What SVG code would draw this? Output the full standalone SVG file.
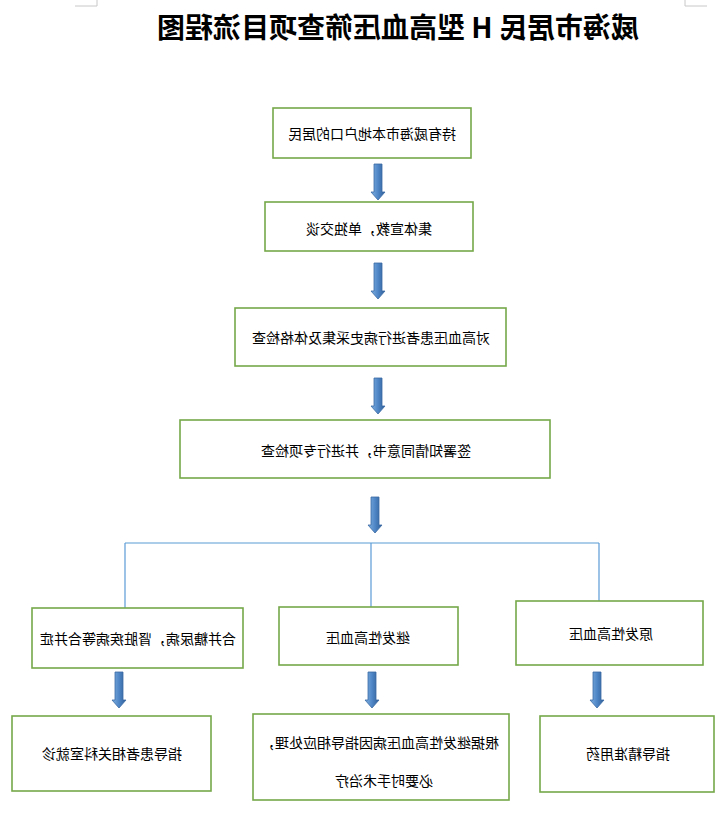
<svg xmlns="http://www.w3.org/2000/svg" width="726" height="824" viewBox="0 0 726 824">
<style>
.box{fill:#fff;stroke:#76a84a;stroke-width:1.6}
.t{font-family:"Noto Sans CJK SC","Noto Sans",sans-serif;font-size:14px;fill:#000;text-anchor:middle;dominant-baseline:central}
.title{font-family:"Noto Sans CJK SC","Noto Sans",sans-serif;font-size:28px;font-weight:bold;fill:#000;text-anchor:middle;dominant-baseline:central}
.line{fill:none;stroke:#5b9bd5;stroke-width:1.2}
.mark{stroke:#c8c8c8;stroke-width:1}
</style>
<defs>
<linearGradient id="ag" x1="0" y1="0" x2="1" y2="0">
<stop offset="0" stop-color="#7fb0e0"/>
<stop offset="0.5" stop-color="#4f86c6"/>
<stop offset="1" stop-color="#2f5f98"/>
</linearGradient>
<path id="arr" d="M-4,0 H4 V28 H7 L0,36 L-7,28 H-4 Z" fill="url(#ag)" stroke="#3a6aa3" stroke-width="0.8"/>
</defs>
<rect width="726" height="824" fill="#fff"/>
<g id="marks">
<line class="mark" x1="97" y1="0" x2="97" y2="6"/>
<line class="mark" x1="75" y1="6" x2="97" y2="6"/>
<line class="mark" x1="685" y1="0" x2="685" y2="6"/>
<line class="mark" x1="685" y1="6" x2="707" y2="6"/>
</g>
<g id="title">
<text class="title" transform="translate(398,26) scale(-1,1)">威海市居民 H 型高血压筛查项目流程图</text>
</g>
<g id="connectors">
<use href="#arr" x="378" y="164"/>
<use href="#arr" x="378" y="263"/>
<use href="#arr" x="378" y="378"/>
<use href="#arr" x="375" y="497"/>
<path class="line" d="M125,543 H599"/>
<path class="line" d="M125,543 V608"/>
<path class="line" d="M371,543 V607"/>
<path class="line" d="M599,543 V601"/>
<use href="#arr" x="119" y="672"/>
<use href="#arr" x="372" y="672"/>
<use href="#arr" x="597" y="672"/>
</g>
<g id="n1"><rect class="box" x="273" y="108" width="198" height="50"/><text class="t" transform="translate(372,133) scale(-1,1)">持有威海市本地户口的居民</text></g>
<g id="n2"><rect class="box" x="265" y="202" width="208" height="49"/><text class="t" transform="translate(369,228) scale(-1,1)">集体宣教，单独交谈</text></g>
<g id="n3"><rect class="box" x="235" y="308" width="271" height="58"/><text class="t" transform="translate(371,337) scale(-1,1)">对高血压患者进行病史采集及体格检查</text></g>
<g id="n4"><rect class="box" x="180" y="420" width="370" height="58"/><text class="t" transform="translate(366,450) scale(-1,1)">签署知情同意书，并进行专项检查</text></g>
<g id="n5"><rect class="box" x="32" y="608" width="211" height="60"/><text class="t" transform="translate(138,638) scale(-1,1)">合并糖尿病，肾脏疾病等合并症</text></g>
<g id="n6"><rect class="box" x="279" y="607" width="179" height="58"/><text class="t" transform="translate(368,637) scale(-1,1)">继发性高血压</text></g>
<g id="n7"><rect class="box" x="516" y="601" width="187" height="64"/><text class="t" transform="translate(611,633) scale(-1,1)">原发性高血压</text></g>
<g id="n8"><rect class="box" x="12" y="716" width="199" height="75"/><text class="t" transform="translate(112,753) scale(-1,1)">指导患者相关科室就诊</text></g>
<g id="n9"><rect class="box" x="253" y="714" width="256" height="86"/><text class="t" transform="translate(380,742) scale(-1,1)">根据继发性高血压病因指导相应处理，</text><text class="t" transform="translate(384,780) scale(-1,1)">必要时手术治疗</text></g>
<g id="n10"><rect class="box" x="540" y="716" width="174" height="76"/><text class="t" transform="translate(628,753) scale(-1,1)">指导精准用药</text></g>
</svg>
